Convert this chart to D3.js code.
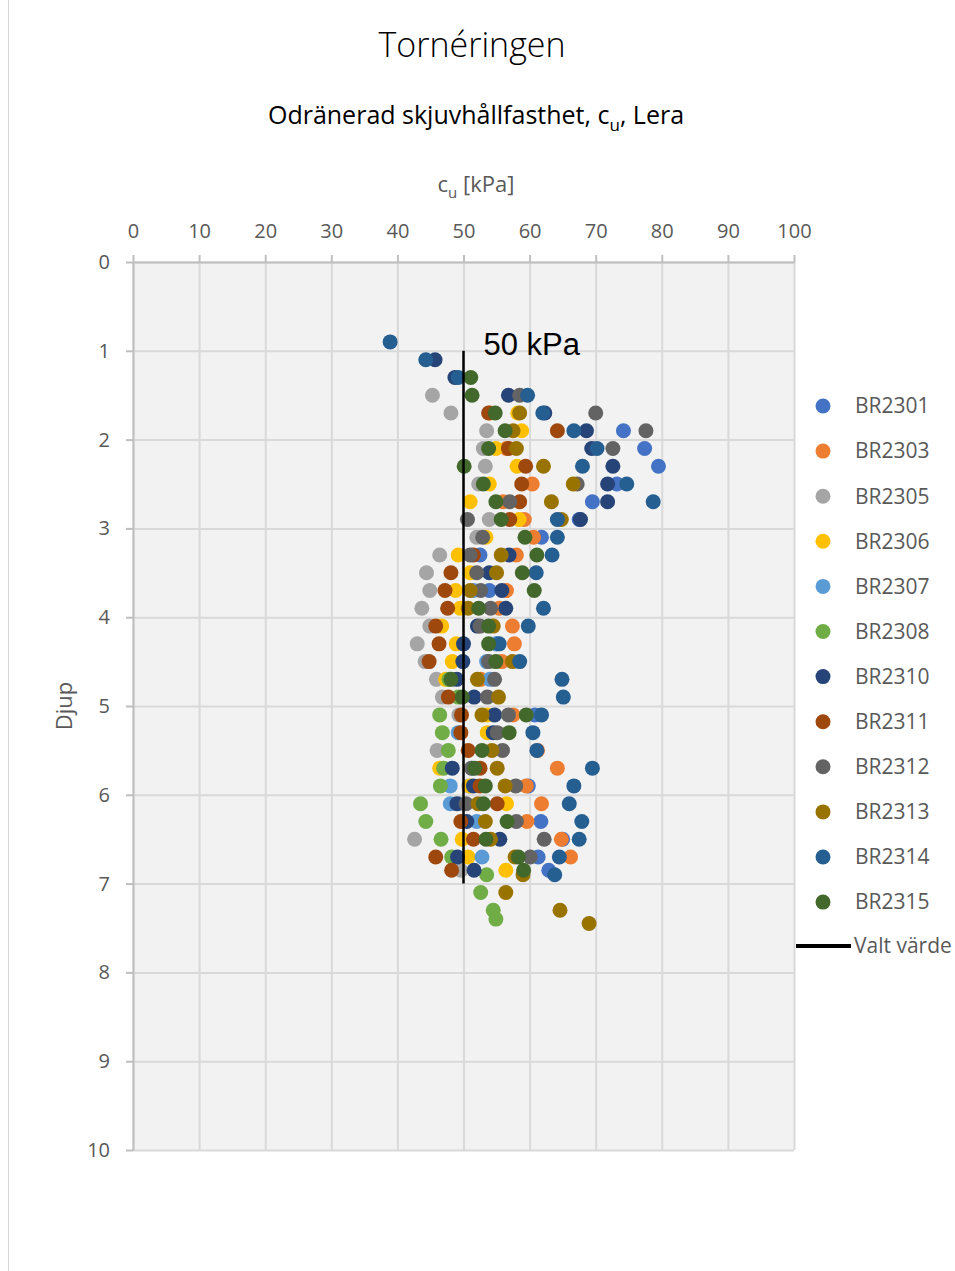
<!DOCTYPE html>
<html><head><meta charset="utf-8">
<script src="https://cdn.jsdelivr.net/npm/d3@7"></script>
<style>body{margin:0;background:#fff}svg{display:block}</style>
</head><body>
<svg id="c" width="955" height="1271"></svg>
<script>
const xTicks = [0,10,20,30,40,50,60,70,80,90,100];
const yTicks = [0,1,2,3,4,5,6,7,8,9,10];
const seriesNames = ["BR2301","BR2303","BR2305","BR2306","BR2307","BR2308","BR2310","BR2311","BR2312","BR2313","BR2314","BR2315"];
const seriesColors = ["#4472C4","#ED7D31","#A5A5A5","#FFC000","#5B9BD5","#70AD47","#264478","#9E480E","#636363","#997300","#255E91","#43682B"];
// [depth m, cu kPa]
const BR2301 = [[1.9,74.2],[2.1,77.4],[2.3,79.5],[2.5,73.2],[2.7,69.5],[2.9,67.5],[3.1,61.8],[3.3,52.5],[3.7,53.9],[4.3,55.0],[5.1,60.8],[5.9,59.8],[6.3,61.7],[6.5,65.0],[6.7,61.3],[6.85,62.9]];
const BR2303 = [[1.7,54.0],[2.1,56.5],[2.5,60.4],[2.7,56.0],[2.9,59.2],[3.1,60.6],[3.3,58.0],[3.7,56.5],[3.9,55.4],[4.1,57.4],[4.3,57.7],[4.5,55.8],[4.7,52.6],[5.1,57.5],[5.5,61.2],[5.7,64.2],[5.9,59.5],[6.1,61.8],[6.3,59.6],[6.5,64.8],[6.7,66.2]];
const BR2305 = [[1.5,45.3],[1.7,48.1],[1.9,53.5],[2.1,53.0],[2.3,53.3],[2.5,52.3],[2.9,53.9],[3.1,52.0],[3.3,46.4],[3.5,44.4],[3.7,44.9],[3.9,43.7],[4.1,44.9],[4.3,43.0],[4.5,44.2],[4.7,45.9],[4.9,46.8],[5.1,49.3],[5.5,46.0],[5.9,50.8],[6.1,49.5],[6.5,42.6],[6.85,49.6]];
const BR2306 = [[1.7,58.2],[1.9,58.8],[2.1,54.9],[2.3,58.1],[2.5,53.9],[2.7,51.0],[2.9,58.4],[3.1,53.4],[3.3,49.2],[3.5,51.0],[3.7,48.8],[3.9,49.5],[4.1,46.7],[4.3,48.9],[4.5,48.3],[4.7,47.3],[5.1,53.6],[5.3,53.6],[5.7,46.4],[5.9,51.0],[6.1,56.5],[6.5,49.8],[6.7,50.7],[6.85,56.4]];
const BR2307 = [[3.7,51.5],[4.3,55.0],[4.5,53.5],[4.7,54.0],[5.3,49.2],[5.7,51.3],[5.9,48.0],[6.1,48.0],[6.3,52.0],[6.7,52.8]];
const BR2308 = [[4.7,47.8],[4.9,49.2],[5.1,46.4],[5.3,46.8],[5.5,47.7],[5.7,47.0],[5.9,46.5],[6.1,43.5],[6.3,44.3],[6.5,46.6],[6.7,48.2],[6.9,53.5],[7.1,52.6],[7.3,54.5],[7.4,54.9]];
const BR2310 = [[1.1,45.7],[1.3,48.7],[1.5,56.8],[1.7,62.3],[1.9,68.6],[2.1,69.4],[2.3,72.6],[2.5,71.8],[2.7,71.8],[2.9,67.7],[3.3,56.9],[3.5,53.9],[3.7,55.8],[3.9,56.4],[4.1,52.1],[4.3,50.0],[4.5,49.9],[4.7,49.0],[4.9,51.6],[5.1,54.7],[5.3,54.5],[5.7,48.3],[5.9,51.5],[6.1,49.0],[6.3,50.5],[6.5,55.5],[6.7,49.1],[6.85,51.6]];
const BR2311 = [[1.7,53.8],[1.9,64.2],[2.1,56.8],[2.3,59.4],[2.5,58.8],[2.7,58.5],[2.9,57.0],[3.3,51.5],[3.5,48.1],[3.7,47.2],[3.9,47.6],[4.1,45.8],[4.3,46.3],[4.5,44.8],[4.9,47.7],[5.1,49.7],[5.3,49.6],[5.5,50.7],[5.7,52.5],[5.9,52.5],[6.1,55.1],[6.3,49.6],[6.5,51.5],[6.7,45.8],[6.85,48.2]];
const BR2312 = [[1.5,58.5],[1.7,70.0],[1.9,77.6],[2.1,72.6],[2.5,67.2],[2.7,57.0],[2.9,50.6],[3.1,52.9],[3.3,51.0],[3.5,52.0],[3.7,52.6],[3.9,54.1],[4.1,52.5],[4.5,53.8],[4.7,54.7],[4.9,53.6],[5.1,56.8],[5.3,55.1],[5.5,55.9],[5.7,51.2],[5.9,57.9],[6.1,50.4],[6.3,58.0],[6.5,62.2],[6.7,60.1]];
const BR2313 = [[1.7,58.5],[1.9,57.5],[2.1,58.0],[2.3,62.1],[2.5,66.6],[2.7,63.3],[2.9,64.8],[3.3,55.7],[3.5,55.0],[3.7,51.0],[3.9,50.7],[4.1,54.5],[4.5,57.4],[4.7,52.1],[4.9,55.3],[5.1,52.8],[5.5,54.3],[5.7,55.1],[5.9,56.3],[6.1,52.2],[6.3,53.3],[6.5,54.1],[6.7,57.8],[6.9,59.0],[7.1,56.4],[7.3,64.6],[7.45,69.0]];
const BR2314 = [[0.9,38.9],[1.1,44.3],[1.3,49.2],[1.5,59.7],[1.7,62.0],[1.9,66.7],[2.1,70.2],[2.3,68.0],[2.5,74.7],[2.7,78.7],[2.9,64.2],[3.1,64.2],[3.3,63.4],[3.5,61.0],[3.9,62.1],[4.1,59.8],[4.3,55.4],[4.5,58.5],[4.7,64.9],[4.9,65.1],[5.1,61.8],[5.3,60.5],[5.5,61.1],[5.7,69.5],[5.9,66.7],[6.1,66.0],[6.3,67.9],[6.5,67.5],[6.7,64.5],[6.9,63.8]];
const BR2315 = [[1.3,51.1],[1.5,51.3],[1.7,54.8],[1.9,56.3],[2.1,53.8],[2.3,50.1],[2.5,53.0],[2.7,54.9],[2.9,55.7],[3.1,59.3],[3.3,61.1],[3.5,58.9],[3.7,60.7],[3.9,52.3],[4.1,53.8],[4.3,53.8],[4.5,54.9],[4.7,48.1],[4.9,49.8],[5.1,59.5],[5.3,56.9],[5.5,52.8],[5.7,51.7],[5.9,53.3],[6.1,53.0],[6.3,56.6],[6.5,53.4],[6.7,58.3],[6.85,59.1]];
const valtVarde = [[1.0,50],[7.0,50]];
const valtLabel = "50 kPa";

const seriesData = [BR2301,BR2303,BR2305,BR2306,BR2307,BR2308,BR2310,BR2311,BR2312,BR2313,BR2314,BR2315];

(function(){
const svg = d3.select("#c");
const W = 955, H = 1271;
const pL = 133, pR = 794, pT = 262, pB = 1150;
const xS = d3.scaleLinear().domain([0,100]).range([pL,pR]);
const yS = d3.scaleLinear().domain([0,10]).range([pT,pB]);
const txtGray = "#595959";
const fontUI = "'Open Sans', 'Noto Sans', sans-serif";

svg.append("rect").attr("x",8.5).attr("y",-5).attr("width",W+20).attr("height",H+10)
  .attr("fill","#fff").attr("stroke","#D9D9D9").attr("stroke-width",1);

svg.append("rect").attr("x",pL).attr("y",pT).attr("width",pR-pL).attr("height",pB-pT).attr("fill","#F2F2F2");

const gx = svg.append("g").attr("transform",`translate(0,${pB})`)
  .call(d3.axisTop(xS).tickValues(xTicks).tickSize(pB-pT).tickFormat(""));
gx.select(".domain").remove();
gx.selectAll("line").attr("stroke","#D9D9D9").attr("stroke-width",2);
const gy = svg.append("g").attr("transform",`translate(${pR},0)`)
  .call(d3.axisLeft(yS).tickValues(yTicks).tickSize(pR-pL).tickFormat(""));
gy.select(".domain").remove();
gy.selectAll("line").attr("stroke","#D9D9D9").attr("stroke-width",2);

const ax = svg.append("g").attr("transform",`translate(0,${pT})`)
  .call(d3.axisTop(xS).tickValues(xTicks).tickSize(7).tickSizeOuter(0).tickPadding(17));
ax.select(".domain").attr("stroke","#BFBFBF").attr("stroke-width",2);
ax.selectAll("line").attr("stroke","#BFBFBF").attr("stroke-width",2);
ax.selectAll("text").attr("fill",txtGray).attr("font-family",fontUI).attr("font-size",20);

const ay = svg.append("g").attr("transform",`translate(${pL},0)`)
  .call(d3.axisLeft(yS).tickValues(yTicks).tickSize(7).tickSizeOuter(0).tickPadding(16));
ay.select(".domain").attr("stroke","#BFBFBF").attr("stroke-width",2);
ay.selectAll("line").attr("stroke","#BFBFBF").attr("stroke-width",2);
ay.selectAll("text").attr("fill",txtGray).attr("font-family",fontUI).attr("font-size",20);

seriesData.forEach((arr,i)=>{
  svg.append("g").selectAll("circle").data(arr).join("circle")
    .attr("cx",d=>xS(d[1])).attr("cy",d=>yS(d[0])).attr("r",7.5)
    .attr("fill",seriesColors[i]);
});

svg.append("path").datum(valtVarde)
  .attr("d",d3.line().x(d=>xS(d[1])).y(d=>yS(d[0])))
  .attr("stroke","#000").attr("stroke-width",2.5).attr("fill","none");
svg.append("text").attr("x",xS(valtVarde[0][1])+20).attr("y",yS(valtVarde[0][0])+4)
  .attr("font-family","'Liberation Sans', Arial, sans-serif").attr("font-size",31).attr("fill","#000")
  .text(valtLabel);

svg.append("text").attr("x",472).attr("y",57).attr("text-anchor","middle")
  .attr("font-family",fontUI).attr("font-weight",300).attr("font-size",34).attr("fill","#000").text("Tornéringen");
const st = svg.append("text").attr("x",476).attr("y",124).attr("text-anchor","middle")
  .attr("font-family",fontUI).attr("font-size",25).attr("fill","#000");
st.append("tspan").text("Odränerad skjuvhållfasthet, c");
st.append("tspan").attr("font-size",17).attr("dy",7).text("u");
st.append("tspan").attr("dy",-7).text(", Lera");

const xt = svg.append("text").attr("x",476).attr("y",192).attr("text-anchor","middle")
  .attr("font-family",fontUI).attr("font-size",22).attr("fill",txtGray);
xt.append("tspan").text("c");
xt.append("tspan").attr("font-size",15).attr("dy",6).text("u");
xt.append("tspan").attr("dy",-6).text(" [kPa]");

svg.append("text").attr("transform","translate(72,706) rotate(-90)").attr("text-anchor","middle")
  .attr("font-family",fontUI).attr("font-size",22).attr("fill",txtGray).text("Djup");

const leg = svg.append("g");
seriesNames.forEach((n,i)=>{
  const yy = 406 + i*45.1;
  leg.append("circle").attr("cx",823).attr("cy",yy).attr("r",7.5).attr("fill",seriesColors[i]);
  leg.append("text").attr("x",855).attr("y",yy).attr("dy","0.35em")
    .attr("font-family",fontUI).attr("font-size",21).attr("fill",txtGray).text(n);
});
leg.append("line").attr("x1",796).attr("x2",851).attr("y1",946).attr("y2",946)
  .attr("stroke","#000").attr("stroke-width",4);
leg.append("text").attr("x",854).attr("y",946).attr("dy","0.35em")
  .attr("font-family",fontUI).attr("font-size",21).attr("fill",txtGray).text("Valt värde");
})();
</script>
</body></html>
